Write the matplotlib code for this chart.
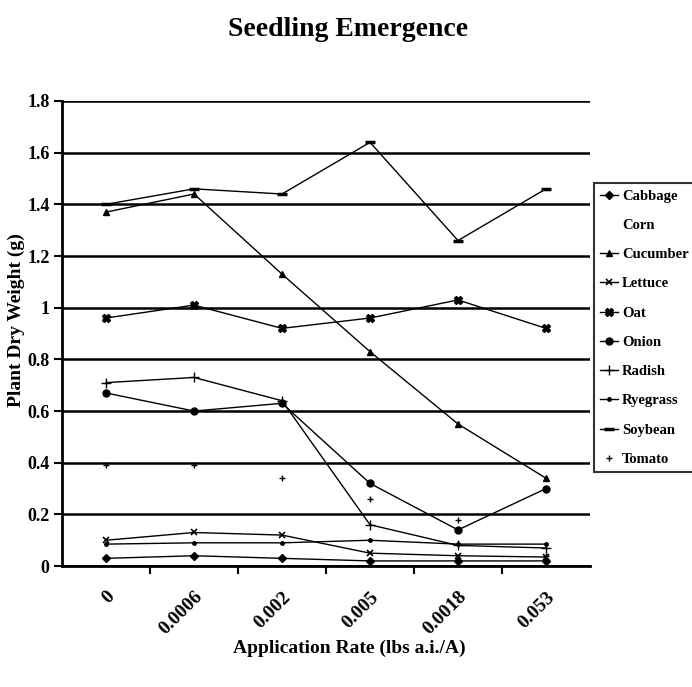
import numpy as np
import matplotlib
matplotlib.use("Agg")
import matplotlib.pyplot as plt

rates = ["0", "0.0006", "0.002", "0.005", "0.0018", "0.053"]
cabbage = [0.03, 0.04, 0.03, 0.02, 0.02, 0.02]
corn = [np.nan] * 6
cucumber = [1.37, 1.44, 1.13, 0.83, 0.55, 0.34]
lettuce = [0.10, 0.13, 0.12, 0.05, 0.04, 0.035]
oat = [0.96, 1.01, 0.92, 0.96, 1.03, 0.92]
onion = [0.67, 0.60, 0.63, 0.32, 0.14, 0.30]
radish = [0.71, 0.73, 0.64, 0.16, 0.08, 0.07]
ryegrass = [0.085, 0.09, 0.09, 0.10, 0.085, 0.085]
soybean = [1.40, 1.46, 1.44, 1.64, 1.26, 1.46]
tomato = [0.39, 0.39, 0.34, 0.26, 0.18, 0.04]
yticks = [0, 0.2, 0.4, 0.6, 0.8, 1.0, 1.2, 1.4, 1.6, 1.8]
ytick_labels = ["0", "0.2", "0.4", "0.6", "0.8", "1", "1.2", "1.4", "1.6", "1.8"]

plt.rcParams['font.family'] = ['Liberation Serif', 'DejaVu Serif']
plt.rcParams['font.weight'] = 'bold'

fig = plt.figure(figsize=(6.92, 6.87), dpi=100)
ax = fig.add_axes([0.0896, 0.176, 0.7630, 0.677])

x = np.arange(len(rates))
series = [
    ("Cabbage", cabbage, dict(marker='D', ms=4, ls='-')),
    ("Corn", corn, dict(marker='', ls='-', color='none')),
    ("Cucumber", cucumber, dict(marker='^', ms=5, ls='-')),
    ("Lettuce", lettuce, dict(marker='x', ms=5, ls='-', mew=1.2)),
    ("Oat", oat, dict(marker='X', ms=6, ls='-')),
    ("Onion", onion, dict(marker='o', ms=5, ls='-')),
    ("Radish", radish, dict(marker='+', ms=7, ls='-', mew=1.0)),
    ("Ryegrass", ryegrass, dict(marker='.', ms=5, ls='-')),
    ("Soybean", soybean, dict(marker='_', ms=7, ls='-', mew=2.5)),
    ("Tomato", tomato, dict(marker='+', ms=4, ls='none', mew=1.0)),
]
for name, vals, kw in series:
    kw.setdefault('color', 'black')
    ax.plot(x, vals, label=name, lw=1.0, **kw)

ax.set_xlim(-0.5, len(rates) - 0.5)
ax.set_ylim(0, 1.8)
ax.set_yticks(yticks)
ax.set_yticklabels(ytick_labels, fontsize=13, fontweight='bold')
ax.set_xticks(x)
ax.set_xticklabels(rates, rotation=45, ha='right', va='top', rotation_mode='anchor',
                   fontsize=14, fontweight='bold')
ax.tick_params(axis='x', length=0, pad=16)
ax.set_xticks(np.arange(0.5, len(rates) - 1, 1), minor=True)
ax.tick_params(axis='x', which='minor', length=6, width=1.5, direction='out')
ax.tick_params(axis='y', length=6, width=1.5, direction='out', pad=3)

ax.grid(axis='y', color='black', lw=1.8)
ax.set_axisbelow(True)
for s in ['top', 'right']:
    ax.spines[s].set_visible(False)
for s in ['left', 'bottom']:
    ax.spines[s].set_linewidth(2)

ax.set_ylabel("Plant Dry Weight (g)", fontsize=14, fontweight='bold')
ax.yaxis.set_label_coords(-0.07, 0.53)
fig.text(0.505, 0.050, "Application Rate (lbs a.i./A)", ha='center', fontsize=14, fontweight='bold')
fig.text(0.503, 0.948, "Seedling Emergence", ha='center', fontsize=20, fontweight='bold')

leg = ax.legend(loc='upper left', bbox_to_anchor=(1.007, 0.824), frameon=True, fancybox=False,
                edgecolor='black', fontsize=10.5, handlelength=1.2, handletextpad=0.3,
                borderaxespad=0, labelspacing=1.1, borderpad=0.45)
leg.get_frame().set_linewidth(1.5)
for t in leg.get_texts():
    t.set_fontweight('bold')

fig.savefig("out.png", dpi=100)
